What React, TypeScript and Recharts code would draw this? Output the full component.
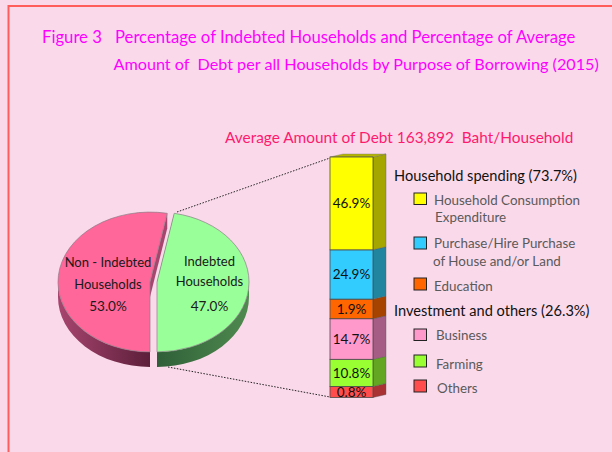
import React from "react";
import { PieChart, Pie, Cell, BarChart, Bar, XAxis, YAxis, LabelList } from "recharts";

// ---- Data ----
const pieNames = ["Indebted", "Non - Indebted"];
const pieValues = [47.0, 53.0];

const segmentKeys = ["others", "farming", "business", "education", "house", "consumption"];
// Percentages printed on the column.
const segmentShares = [0.8, 10.8, 14.7, 1.9, 24.9, 46.9];
// The reference's column is not drawn to scale (1.9% is as tall as about 10%),
// so these are the segment heights, in the same units.
const segmentHeights = [5.6, 13.7, 20.5, 9.9, 24.9, 46.9];

const legendGroups = ["Household spending (73.7%)", "Investment and others (26.3%)"];
const legendLines = [
  ["Household Consumption", "Expenditure"],
  ["Purchase/Hire Purchase", "of House and/or Land"],
  ["Education"],
  ["Business"],
  ["Farming"],
  ["Others"],
];

// ---- Styles ----
const FONT = "Lato, 'Noto Sans', sans-serif";
const BG = "#fad9ea";
const FRONT = ["#ff4d4d", "#99ff33", "#ff99cc", "#ff6600", "#33ccff", "#ffff00"];
const SIDE = ["#a83234", "#63a621", "#a65d85", "#a64300", "#21859f", "#a6a600"];
const PIE_TOP = ["#99ff99", "#ff6699"];
const PIE_WALL = [["#4f8a4f", "#2f5f38"], ["#a8456f", "#5c1f3a"]];
const EXPLODE = [3.5, -3.5];
const RY = 0.76;
const DEPTH = 15;
const swatches = [
  { y: 193, h: 11.5 }, { y: 237, h: 12 }, { y: 278, h: 12 },
  { y: 329, h: 11.5 }, { y: 355, h: 12 }, { y: 380, h: 12 },
];
const legendOrder = [5, 4, 3, 2, 1, 0];
const legendTextPos = [
  [[434, 200], [435, 217]],
  [[434, 243], [433, 261]],
  [[434, 286]],
  [[436, 335]],
  [[436, 364]],
  [[437, 388]],
];

const barRow: Record<string, number | string> = { name: "debt" };
segmentKeys.forEach((k, i) => { barRow[k] = segmentHeights[i]; });
const barData = [barRow];
const heightTotal = segmentHeights.reduce((a, b) => a + b, 0);
const pieData = pieNames.map((name, i) => ({ name, value: pieValues[i] }));

function PieSlice(props: any) {
  const { cx, cy, outerRadius, startAngle, endAngle, index } = props;
  const i = index ?? 0;
  const c = cx + EXPLODE[i];
  const rx = outerRadius;
  const ry = outerRadius * RY;
  const pt = (deg: number, dy = 0) => {
    const r = (deg * Math.PI) / 180;
    return [c + rx * Math.cos(r), cy - ry * Math.sin(r) + dy];
  };
  const s = pt(startAngle);
  const e = pt(endAngle);
  const large = Math.abs(endAngle - startAngle) > 180 ? 1 : 0;
  const top = `M${c},${cy} L${s[0]},${s[1]} A${rx},${ry} 0 ${large} 0 ${e[0]},${e[1]} Z`;
  const walls: string[] = [];
  [[-180, 0], [180, 360]].forEach(([a, b]) => {
    const lo = Math.max(a, startAngle);
    const hi = Math.min(b, endAngle);
    if (hi > lo) {
      const p = pt(lo), q = pt(hi), q2 = pt(hi, DEPTH), p2 = pt(lo, DEPTH);
      walls.push(`M${p[0]},${p[1]} A${rx},${ry} 0 0 0 ${q[0]},${q[1]} L${q2[0]},${q2[1]} A${rx},${ry} 0 0 1 ${p2[0]},${p2[1]} Z`);
    }
  });
  const gid = `wall${i}`;
  const stops = PIE_WALL[i];
  const cut = `M${c},${cy} L${s[0]},${s[1]} L${s[0]},${s[1] + DEPTH} L${c},${cy + DEPTH} Z`;
  const cut2 = `M${c},${cy} L${e[0]},${e[1]} L${e[0]},${e[1] + DEPTH} L${c},${cy + DEPTH} Z`;
  return (
    <g>
      <defs>
        <linearGradient id={gid} x1="0" y1="0" x2="1" y2="0">
          <stop offset="0" stopColor={i === 0 ? stops[1] : stops[0]} />
          <stop offset="1" stopColor={i === 0 ? stops[0] : stops[1]} />
        </linearGradient>
      </defs>
      <path d={cut} fill={PIE_WALL[i][0]} />
      <path d={cut2} fill={PIE_WALL[i][0]} />
      {walls.map((d, k) => <path key={k} d={d} fill={`url(#${gid})`} />)}
      <path d={top} fill={PIE_TOP[i]} stroke="#8a7f86" strokeWidth={0.7} />
    </g>
  );
}

const pieLabelLines = [
  ["Indebted", "Households", "47.0%"],
  ["Non - Indebted", "Households", "53.0%"],
];
const pieLabelX = [56, -45.5];
const pieLabelY = [[-21, -1, 23.5], [-20, 2, 23.5]];

function PieLabel(props: any) {
  const { cx, cy, index } = props;
  return (
    <g>
      {pieLabelLines[index].map((t, k) => (
        <text key={k} x={cx + pieLabelX[index]} y={cy + pieLabelY[index][k]} textAnchor="middle"
          dominantBaseline="central" fontFamily={FONT} fontSize={k === 2 ? 13.5 : 13} fill="#1a1a1a">{t}</text>
      ))}
    </g>
  );
}

function Prism(props: any) {
  const { x, y, width, height, fill, side, isTop } = props;
  const dx = 13, dy = -3;
  return (
    <g>
      <polygon points={`${x + width},${y} ${x + width + dx},${y + dy} ${x + width + dx},${y + height + dy} ${x + width},${y + height}`} fill={side} stroke="#555" strokeWidth={0.4} />
      {isTop && <polygon points={`${x},${y} ${x + dx},${y + dy} ${x + width + dx},${y + dy} ${x + width},${y}`} fill="#b5b500" stroke="#777" strokeWidth={0.4} />}
      <rect x={x} y={y} width={width} height={height} fill={fill} stroke="#4a4a4a" strokeWidth={0.8} />
    </g>
  );
}

function Line({ x, y, children, size = 14, fill }: any) {
  return (
    <text x={x} y={y} dominantBaseline="central" fontFamily={FONT} fontSize={size} fill={fill}>{children}</text>
  );
}

export default function App() {
  return (
    <div style={{ position: "fixed", left: 0, top: 0, width: 612, height: 452, background: BG, overflow: "hidden" }}>
      <div style={{ position: "absolute", left: 320, top: 150 }}>
        <BarChart width={70} height={260} data={barData} barCategoryGap={0}
          margin={{ left: 10, right: 17.5, top: 7, bottom: 12.5 }}>
          <XAxis dataKey="name" hide />
          <YAxis hide domain={[0, heightTotal]} />
          {segmentKeys.map((k, i) => (
            <Bar key={k} dataKey={k} stackId="a" isAnimationActive={false} fill={FRONT[i]}
              shape={(p: any) => <Prism {...p} side={SIDE[i]} isTop={i === segmentKeys.length - 1} />}>
              <LabelList dataKey={k} position="center" formatter={() => `${segmentShares[i].toFixed(1)}%`}
                style={{ fontFamily: FONT, fontSize: 13.5, fill: "#111" }} />
            </Bar>
          ))}
        </BarChart>
      </div>
      <div style={{ position: "absolute", left: 0, top: 0 }}>
        <PieChart width={300} height={400} margin={{ left: 0, right: 0, top: 0, bottom: 0 }}>
          <Pie data={pieData} dataKey="value" nameKey="name" cx={153.5} cy={282} outerRadius={92}
            startAngle={-90} endAngle={270} paddingAngle={0} stroke="none" isAnimationActive={false}
            labelLine={false} label={PieLabel} shape={PieSlice}>
            {pieData.map((d, i) => <Cell key={d.name} fill={PIE_TOP[i]} />)}
          </Pie>
        </PieChart>
      </div>
      <svg width={612} height={452} style={{ position: "absolute", left: 0, top: 0, pointerEvents: "none" }}>
        <line x1={8.5} y1={5} x2={8.5} y2={452} stroke="#ff5c5c" strokeWidth={2} />
        <line x1={8} y1={6} x2={612} y2={6} stroke="#ff5c5c" strokeWidth={2} />
        <Line x={42} y={37} size={16.7} fill="#ff00ff">Figure 3</Line>
        <Line x={115} y={37} size={16.7} fill="#ff00ff">Percentage of Indebted Households and Percentage of Average</Line>
        <Line x={113.5} y={63} size={16.2} fill="#ff00ff">{"Amount of\u00a0\u00a0Debt per all Households by Purpose of Borrowing (2015)"}</Line>
        <Line x={225} y={137} size={15.4} fill="#ff1a6e">{"Average Amount of Debt 163,892\u00a0\u00a0Baht/Household"}</Line>
        <line x1={177} y1={212} x2={330} y2={158} stroke="#222" strokeWidth={1} strokeDasharray="1.5 1.5" />
        <line x1={168} y1={367} x2={330} y2={397} stroke="#222" strokeWidth={1} strokeDasharray="1.5 1.5" />
        <Line x={394} y={175} size={14.6} fill="#111">{legendGroups[0]}</Line>
        <Line x={394} y={310} size={14.6} fill="#111">{legendGroups[1]}</Line>
        {legendLines.map((lines, i) => (
          <g key={i}>
            <rect x={414} y={swatches[i].y} width={12.5} height={swatches[i].h}
              fill={FRONT[legendOrder[i]]} stroke="#222" strokeWidth={1} />
            {lines.map((t, k) => (
              <Line key={k} x={legendTextPos[i][k][0]} y={legendTextPos[i][k][1]} size={13.4} fill="#5a5a5a">{t}</Line>
            ))}
          </g>
        ))}
      </svg>
    </div>
  );
}
